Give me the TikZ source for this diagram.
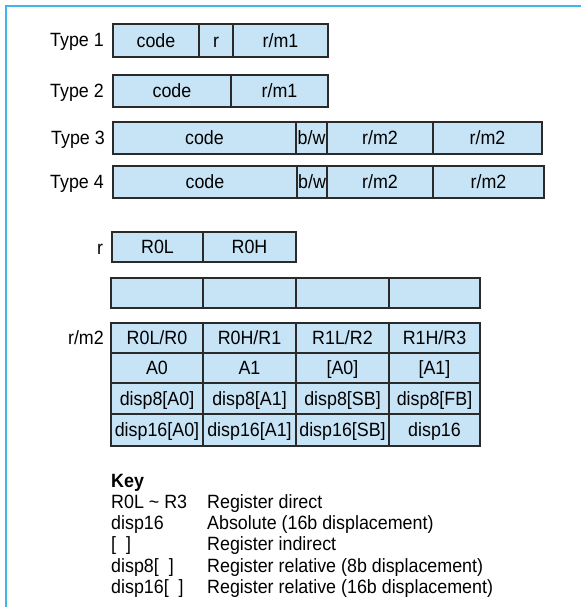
\documentclass[tikz,border=0pt]{standalone}
\usepackage{fontspec}
\setmainfont{Liberation Sans}[FakeStretch=0.93]
\definecolor{framecol}{RGB}{64,182,232}
\definecolor{cellfill}{RGB}{198,228,246}
\definecolor{celledge}{RGB}{42,42,42}
% one field of an instruction format: name, x1, y1, x2, y2, text
\newcommand\fieldcell[6]{%
  \node[cell, minimum width={#4pt-#2pt}, minimum height={#5pt-#3pt}]
    (#1) at ({(#2+#4)/2},{(#3+#5)/2}) {#6};}
\begin{document}
\begin{tikzpicture}[x=1pt, y=-1pt,
  every node/.style={font=\fontsize{19.2}{22}\selectfont},
  cell/.style={draw=celledge, fill=cellfill, line width=1.3pt, inner sep=0pt,
    text height=13.6pt, text depth=0pt},
  rowlabel/.style={anchor=base east, inner sep=0pt},
  keytext/.style={anchor=base west, inner sep=0pt}]
\useasboundingbox (0,0) rectangle (581,607);
% frame: top and left edges only
\draw[framecol, line width=2.2pt] (6,607) -- (6,6) -- (581,6);

% Type 1
\node[rowlabel] (lt1) at (104,47) {Type 1};
\fieldcell{t1a}{113}{24}{199}{57}{code}
\fieldcell{t1b}{199}{24}{233}{57}{r}
\fieldcell{t1c}{233}{24}{328}{57}{r/m1}
% Type 2
\node[rowlabel] (lt2) at (104,97.5) {Type 2};
\fieldcell{t2a}{113}{75}{231}{107}{code}
\fieldcell{t2b}{231}{75}{328}{107}{r/m1}
% Type 3
\node[rowlabel] (lt3) at (105,144.5) {Type 3};
\fieldcell{t3a}{113}{122}{296}{154}{code}
\fieldcell{t3b}{296}{122}{327}{154}{b/w}
\fieldcell{t3c}{327}{122}{433}{154}{r/m2}
\fieldcell{t3d}{433}{122}{542}{154}{r/m2}
% Type 4
\node[rowlabel] (lt4) at (104,188.5) {Type 4};
\fieldcell{t4a}{113}{166}{297}{198}{code}
\fieldcell{t4b}{297}{166}{327}{198}{b/w}
\fieldcell{t4c}{327}{166}{433}{198}{r/m2}
\fieldcell{t4d}{433}{166}{544}{198}{r/m2}

% r field values
\node[anchor=base, inner sep=0pt] (lr) at (100,254) {r};
\fieldcell{ra}{112}{232}{203}{262}{R0L}
\fieldcell{rb}{203}{232}{296}{262}{R0H}

% blank row
\fieldcell{ea}{111}{278}{203}{308}{}
\fieldcell{eb}{203}{278}{296}{308}{}
\fieldcell{ec}{296}{278}{389}{308}{}
\fieldcell{ed}{389}{278}{480}{308}{}

% r/m2 field values
\node[rowlabel] (lrm) at (104,344.5) {r/m2};
\fieldcell{m11}{111}{323}{203}{353}{R0L/R0}
\fieldcell{m12}{203}{323}{296}{353}{R0H/R1}
\fieldcell{m13}{296}{323}{389}{353}{R1L/R2}
\fieldcell{m14}{389}{323}{480}{353}{R1H/R3}
\fieldcell{m21}{111}{353}{203}{383}{A0}
\fieldcell{m22}{203}{353}{296}{383}{A1}
\fieldcell{m23}{296}{353}{389}{383}{[A0]}
\fieldcell{m24}{389}{353}{480}{383}{[A1]}
\fieldcell{m31}{111}{383}{203}{414}{disp8[A0]}
\fieldcell{m32}{203}{383}{296}{414}{disp8[A1]}
\fieldcell{m33}{296}{383}{389}{414}{disp8[SB]}
\fieldcell{m34}{389}{383}{480}{414}{disp8[FB]}
\fieldcell{m41}{111}{414}{203}{446}{disp16[A0]}
\fieldcell{m42}{203}{414}{296}{446}{disp16[A1]}
\fieldcell{m43}{296}{414}{389}{446}{disp16[SB]}
\fieldcell{m44}{389}{414}{480}{446}{disp16}

% key
\node[keytext, font=\fontsize{19.2}{22}\selectfont\bfseries] (key) at (111,487) {Key};
\node[keytext] (k1a) at (111,508) {R0L \textasciitilde\ R3};
\node[keytext] (k1b) at (207,508) {Register direct};
\node[keytext] (k2a) at (111,529) {disp16};
\node[keytext] (k2b) at (207,529) {Absolute (16b displacement)};
\node[keytext] (k3a) at (111,550) {[\ \ ]};
\node[keytext] (k3b) at (207,550) {Register indirect};
\node[keytext] (k4a) at (111,572) {disp8[\ \ ]};
\node[keytext] (k4b) at (207,572) {Register relative (8b displacement)};
\node[keytext] (k5a) at (111,593) {disp16[\ \ ]};
\node[keytext] (k5b) at (207,593) {Register relative (16b displacement)};
\end{tikzpicture}
\end{document}
